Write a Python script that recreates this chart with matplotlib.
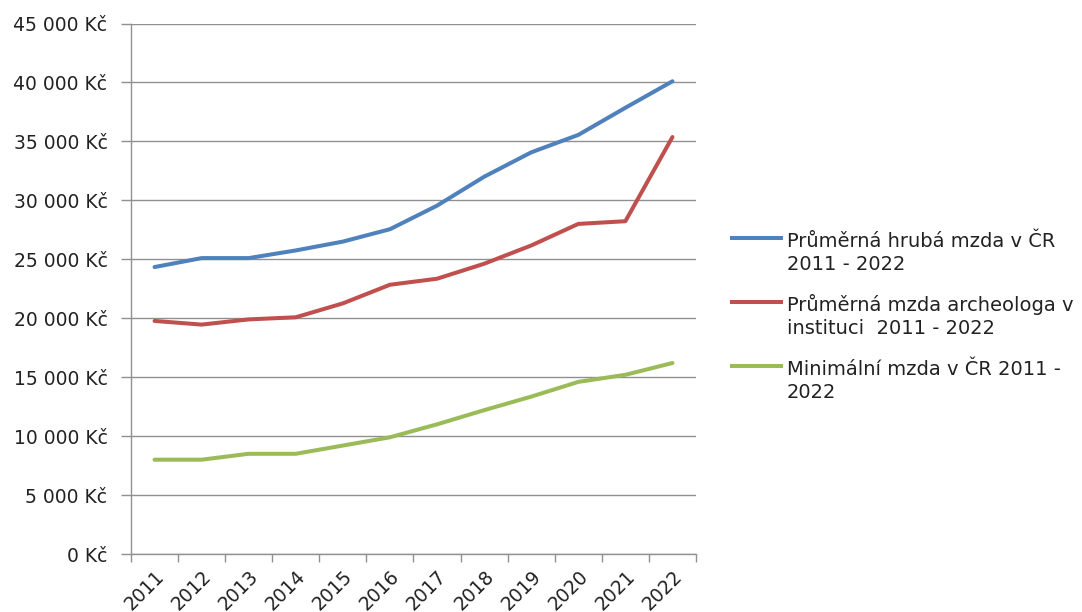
import matplotlib
matplotlib.use("Agg")
import matplotlib.pyplot as plt
from matplotlib.ticker import FixedLocator, FuncFormatter
from matplotlib.lines import Line2D

years = ["2011", "2012", "2013", "2014", "2015", "2016", "2017", "2018", "2019", "2020", "2021", "2022"]
avg_wage = [24340, 25100, 25100, 25750, 26500, 27550, 29550, 32000, 34070, 35550, 37850, 40100]
archaeologist_wage = [19770, 19460, 19900, 20080, 21260, 22840, 23350, 24620, 26170, 28000, 28230, 35370]
min_wage = [8000, 8000, 8500, 8500, 9200, 9900, 11000, 12200, 13350, 14600, 15200, 16200]
labels = ["Průměrná hrubá mzda v ČR\n2011 - 2022",
          "Průměrná mzda archeologa v\ninstituci  2011 - 2022",
          "Minimální mzda v ČR 2011 -\n2022"]
colors = ["#4F81BD", "#C0504D", "#9BBB59"]

plt.rcParams['font.family'] = ['DejaVu Sans']
W, H = 1082, 612
TXT = '#222222'
GRID = '#909090'
LW = 2.9

fig = plt.figure(figsize=(W / 100, H / 100), dpi=100)
ax = fig.add_axes([131 / W, 58 / H, (696 - 131) / W, (554 - 23.5) / H])

x = list(range(len(years)))
for series, lab, c in zip([avg_wage, archaeologist_wage, min_wage], labels, colors):
    ax.plot(x, series, color=c, lw=LW, label=lab, solid_capstyle='round')

ax.set_xlim(-0.5, len(years) - 0.5)
ax.set_ylim(0, 45000)
ax.set_yticks(range(0, 45001, 5000))
ax.yaxis.set_major_formatter(FuncFormatter(lambda v, p: f"{int(v):,}".replace(",", " ") + " Kč"))
ax.grid(axis='y', color=GRID, lw=1.0)
ax.set_axisbelow(True)

ax.set_xticks(x)
ax.set_xticklabels(years, rotation=45, ha='right', va='top', rotation_mode='anchor')
ax.xaxis.set_minor_locator(FixedLocator([i - 0.5 for i in range(len(years) + 1)]))
ax.tick_params(axis='x', which='major', length=0, pad=9, labelsize=13.5)
ax.tick_params(axis='x', which='minor', length=6, color=GRID, width=1.0)
ax.tick_params(axis='y', length=7, color=GRID, width=1.0, labelsize=13.5, pad=10)
for t in ax.get_xticklabels() + ax.get_yticklabels():
    t.set_color(TXT)

for s in ['top', 'right']:
    ax.spines[s].set_visible(False)
for s in ['left', 'bottom']:
    ax.spines[s].set_color(GRID)
    ax.spines[s].set_linewidth(1.0)

# legend drawn as figure artists: handle aligned with first text line
for i, (lab, c) in enumerate(zip(labels, colors)):
    y_line = 237.5 + 64 * i
    fig.add_artist(Line2D([732 / W, 781 / W], [1 - y_line / H, 1 - y_line / H],
                          color=c, lw=LW, transform=fig.transFigure))
    for j, part in enumerate(lab.split("\n")):
        yb = 246.7 + 64 * i + 23.5 * j
        fig.text(787 / W, 1 - yb / H, part, fontsize=14, color=TXT,
                 ha='left', va='baseline')

fig.savefig("out.png", dpi=100)
